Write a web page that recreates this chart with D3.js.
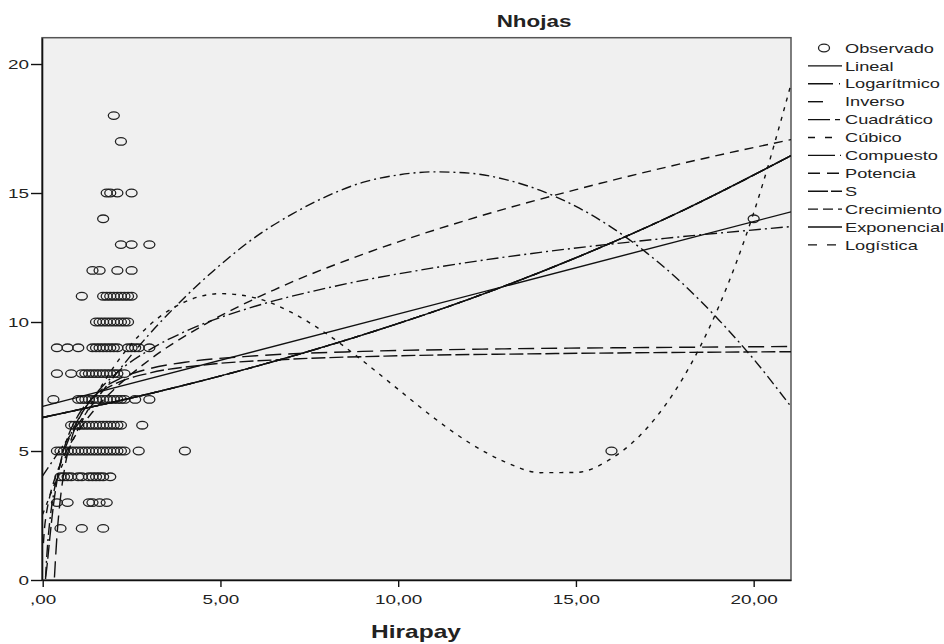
<!DOCTYPE html>
<html>
<head>
<meta charset="utf-8">
<script src="https://cdn.jsdelivr.net/npm/d3@7"></script>
<style>
  html, body { margin: 0; padding: 0; background: #fff; }
  svg text { font-family: "Liberation Sans", Arial, sans-serif; fill: #222; }
</style>
</head>
<body>
<svg id="chart" width="944" height="644"></svg>
<script>
// Observed values, one list of x values per y level
const obsRowsY = [18, 17, 15, 14, 13, 12, 11, 10, 9, 8, 7, 6, 5, 4, 3, 2];
const obsRowsX = [
  [2.0],
  [2.2],
  [1.8, 1.9, 2.1, 2.5],
  [1.7, 20.0],
  [2.2, 2.5, 3.0],
  [1.4, 1.6, 2.1, 2.5],
  [1.1, 1.7, 1.8, 1.9, 2.0, 2.1, 2.2, 2.3, 2.4, 2.5],
  [1.5, 1.6, 1.7, 1.8, 1.9, 2.0, 2.1, 2.2, 2.3, 2.4],
  [0.4, 0.7, 1.0, 1.4, 1.5, 1.6, 1.7, 1.8, 1.9, 2.0, 2.1, 2.4, 2.5, 2.6, 2.7, 3.0],
  [0.4, 0.8, 1.1, 1.2, 1.3, 1.4, 1.5, 1.6, 1.7, 1.8, 1.9, 2.0, 2.1, 2.3],
  [0.3, 1.0, 1.1, 1.2, 1.3, 1.4, 1.5, 1.6, 1.7, 1.8, 1.9, 2.0, 2.1, 2.2, 2.3, 2.6, 3.0],
  [0.8, 0.9, 1.0, 1.1, 1.2, 1.3, 1.4, 1.5, 1.6, 1.7, 1.8, 1.9, 2.0, 2.1, 2.2, 2.8],
  [0.4, 0.5, 0.6, 0.7, 0.8, 0.9, 1.0, 1.1, 1.2, 1.3, 1.4, 1.5, 1.6, 1.7, 1.8, 1.9, 2.0, 2.1, 2.2, 2.3, 2.7, 4.0, 16.0],
  [0.5, 0.6, 0.7, 0.8, 1.0, 1.1, 1.3, 1.4, 1.5, 1.6, 1.7, 1.9],
  [0.4, 0.7, 1.3, 1.4, 1.6, 1.8],
  [0.5, 1.1, 1.7]
];

// Fitted curves, points as [x, y]
const linealPts = [[0, 6.73], [21.05, 14.27]];
const logarPts = [[0.08, 0.04], [0.1, 0.59], [0.15, 1.58], [0.2, 2.29], [0.3, 3.28], [0.5, 4.53],
  [0.75, 5.52], [1, 6.23], [1.5, 7.22], [2, 7.93], [3, 8.92], [4, 9.63], [6, 10.62], [8, 11.32],
  [11, 12.1], [14, 12.7], [17.5, 13.24], [21.05, 13.7]];
const inversoPts = [[0.33, 0.1], [0.4, 1.69], [0.5, 3.19], [0.6, 4.19], [0.8, 5.44], [1, 6.19],
  [1.3, 6.88], [1.7, 7.43], [2.2, 7.83], [3, 8.19], [4, 8.44], [6, 8.69], [9, 8.86], [13, 8.96],
  [17, 9.01], [21.05, 9.05]];
const cuadPts = [[0, 4.04], [1, 6.05], [2, 7.88], [3, 9.53], [4, 10.96], [5, 12.22], [6, 13.31],
  [7, 14.17], [8, 14.88], [9, 15.41], [10, 15.7], [11, 15.82], [12, 15.77], [13, 15.53], [14, 15.1],
  [15, 14.48], [16, 13.67], [17, 12.67], [18, 11.49], [19, 10.11], [20, 8.56], [21.05, 6.72]];
const cubicoPts = [[0, 2.55], [1, 5.86], [2, 8.26], [3, 9.87], [4, 10.78], [5, 11.1], [6, 10.93],
  [7, 10.37], [8, 9.53], [9, 8.5], [10, 7.39], [11, 6.29], [12, 5.32], [13, 4.58], [14, 4.16],
  [15, 4.17], [16, 4.71], [17, 5.89], [18, 7.8], [19, 10.54], [20, 14.23], [21.05, 19.22]];
const expoPts = [[0, 6.3], [3, 7.22], [6, 8.28], [9, 9.5], [12, 10.89], [15, 12.49], [18, 14.32], [21.05, 16.45]];
const potenciaPts = [[0.02, 1.43], [0.05, 1.99], [0.1, 2.54], [0.2, 3.25], [0.35, 3.97], [0.5, 4.51],
  [0.75, 5.21], [1, 5.77], [1.5, 6.67], [2, 7.38], [3, 8.53], [4.5, 9.86], [6.5, 11.24], [9, 12.62],
  [12, 13.98], [15, 15.13], [18, 16.15], [21.05, 17.07]];
const sPts = [[0.08, 0.13], [0.1, 0.3], [0.15, 0.93], [0.2, 1.63], [0.3, 2.88], [0.4, 3.83], [0.5, 4.55],
  [0.7, 5.52], [1, 6.39], [1.5, 7.16], [2, 7.58], [3, 8.02], [4.5, 8.33], [7, 8.56], [10, 8.69],
  [14, 8.77], [21.05, 8.85]];

const legendLabels = ["Lineal", "Logarítmico", "Inverso", "Cuadrático", "Cúbico", "Compuesto",
  "Potencia", "S", "Crecimiento", "Exponencial", "Logística"];
const xTicks = [0, 5, 10, 15, 20];
const xTickLabels = [",00", "5,00", "10,00", "15,00", "20,00"];
const yTicks = [0, 5, 10, 15, 20];

// series table: curve points + line styles
const series = [
  { pts: linealPts, dash: null, legendDash: null },
  { pts: logarPts, dash: "12,4,2,4", legendDash: "25,6,1,10" },
  { pts: inversoPts, dash: "16,7", legendDash: "15,20" },
  { pts: cuadPts, dash: "10,4,2,4", legendDash: "22,5,5,10" },
  { pts: cubicoPts, dash: "4,6", legendDash: "7,10" },
  { pts: expoPts, dash: "14,3,1,3", legendDash: "27,5,1,10" },
  { pts: potenciaPts, dash: "9,6", legendDash: "12,7" },
  { pts: sPts, dash: "14,4", legendDash: "20,3" },
  { pts: expoPts, dash: "6,4", legendDash: "10,5" },
  { pts: expoPts, dash: null, legendDash: null },
  { pts: expoPts, dash: "8,8", legendDash: "9,10" }
].map((d, i) => ({ ...d, label: legendLabels[i] }));

const SX = 1.4; // the reference is stretched horizontally
const plot = { left: 42, top: 37.7, right: 791, bottom: 580 };

const svg = d3.select("#chart");

const x = d3.scaleLinear().domain([-0.02, 21.05]).range([plot.left, plot.right]);
const y = d3.scaleLinear().domain([0, 21.02]).range([plot.bottom, plot.top]);

// plot background
svg.append("rect")
  .attr("x", plot.left).attr("y", plot.top)
  .attr("width", plot.right - plot.left).attr("height", plot.bottom - plot.top)
  .attr("fill", "#f0f0f0")
  .attr("stroke", "#555").attr("stroke-width", 1.5);

svg.append("clipPath").attr("id", "plotClip")
  .append("rect")
  .attr("x", plot.left).attr("y", plot.top)
  .attr("width", plot.right - plot.left).attr("height", plot.bottom - plot.top);

// observed points
const obs = [];
obsRowsY.forEach((yv, i) => obsRowsX[i].forEach(xv => obs.push({ x: xv, y: yv })));

svg.append("g").attr("clip-path", "url(#plotClip)")
  .selectAll("ellipse").data(obs).enter().append("ellipse")
  .attr("cx", d => x(d.x)).attr("cy", d => y(d.y))
  .attr("rx", 5.5).attr("ry", 3.8)
  .attr("fill", "none").attr("stroke", "#222").attr("stroke-width", 1.3);

// fitted curves
const line = d3.line()
  .x(d => x(d[0])).y(d => y(d[1]))
  .curve(d3.curveMonotoneX);

svg.append("g").attr("clip-path", "url(#plotClip)")
  .selectAll("path").data(series).enter().append("path")
  .attr("d", d => line(d.pts))
  .attr("fill", "none").attr("stroke", "#111").attr("stroke-width", 1.4)
  .attr("stroke-dasharray", d => d.dash);

// axes
const xAxis = svg.append("g")
  .attr("transform", `translate(0,${plot.bottom})`)
  .call(d3.axisBottom(x).tickValues(xTicks).tickFormat((d, i) => xTickLabels[i])
    .tickSize(7).tickSizeOuter(0).tickPadding(7));
xAxis.selectAll("text").attr("font-size", 13.5).attr("transform", `scale(${SX},1)`);

const yAxis = svg.append("g")
  .attr("transform", `translate(${plot.left},0)`)
  .call(d3.axisLeft(y).tickValues(yTicks).tickFormat(d3.format("d"))
    .tickSize(11).tickSizeOuter(0));
yAxis.selectAll("text").attr("font-size", 13.5).attr("x", -9.3).attr("transform", `scale(${SX},1)`);

[xAxis, yAxis].forEach(g => {
  g.select(".domain").attr("stroke", "#111").attr("stroke-width", 1.6);
  g.selectAll(".tick line").attr("stroke", "#111").attr("stroke-width", 1.4);
  g.selectAll("text").style("font-family", "'Liberation Sans', Arial, sans-serif").attr("fill", "#222");
});

// title and axis label
function stretchedText(txt, cx, cy, size, weight) {
  svg.append("text")
    .attr("transform", `translate(${cx},${cy}) scale(${SX},1)`)
    .attr("text-anchor", "middle")
    .attr("font-size", size)
    .attr("font-weight", weight)
    .text(txt);
}
stretchedText("Nhojas", 534, 27, 16, "bold");
stretchedText("Hirapay", 416, 638, 17.5, "bold");

// legend
const legY0 = 48, legStep = 17.9;
const legend = svg.append("g").attr("class", "legend-group");

legend.append("ellipse")
  .attr("cx", 824).attr("cy", legY0).attr("rx", 5.5).attr("ry", 3.8)
  .attr("fill", "none").attr("stroke", "#222").attr("stroke-width", 1.3);
legend.append("text")
  .attr("transform", `translate(845,${legY0 + 4.6}) scale(${SX},1)`)
  .attr("font-size", 13).text("Observado");

const entries = legend.selectAll(".legend-entry").data(series).enter()
  .append("g").attr("class", "legend-entry")
  .attr("transform", (d, i) => `translate(0,${legY0 + (i + 1) * legStep})`);

entries.append("line")
  .attr("x1", 808).attr("x2", 842).attr("y1", 0).attr("y2", 0)
  .attr("stroke", "#111").attr("stroke-width", 1.4)
  .attr("stroke-dasharray", d => d.legendDash);

entries.append("text")
  .attr("transform", `translate(845,4.6) scale(${SX},1)`)
  .attr("font-size", 13)
  .text(d => d.label);
</script>
</body>
</html>
